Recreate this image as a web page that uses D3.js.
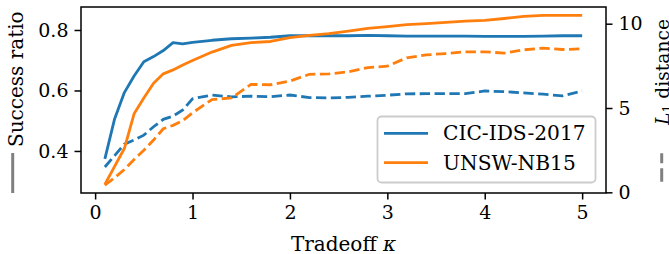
<!DOCTYPE html>
<html>
<head>
<meta charset="utf-8">
<script src="https://cdn.jsdelivr.net/npm/d3@7"></script>
<style>
  body { margin: 0; background: #fff; }
  svg { display: block; font-family: "DejaVu Serif", serif; }
</style>
</head>
<body>
<svg></svg>
<script>
var width = 669;
var height = 254;
var plotLeft = 81, plotRight = 606, plotTop = 7, plotBottom = 193; // plot frame

// data
var kappa = [0.1, 0.2, 0.3, 0.4, 0.5, 0.6, 0.7, 0.8, 0.9, 1.0,
             1.2, 1.4, 1.6, 1.8, 2.0, 2.2, 2.4, 2.6, 2.8, 3.0,
             3.2, 3.4, 3.6, 3.8, 4.0, 4.2, 4.4, 4.6, 4.8, 5.0];
var cicSuccess = [0.374, 0.506, 0.593, 0.648, 0.695, 0.712, 0.732, 0.758, 0.754, 0.759,
                  0.766, 0.771, 0.773, 0.776, 0.781, 0.781, 0.781, 0.781, 0.782, 0.781,
                  0.780, 0.780, 0.780, 0.780, 0.779, 0.779, 0.779, 0.780, 0.781, 0.781];
var unswSuccess = [0.289, 0.349, 0.408, 0.523, 0.575, 0.624, 0.655, 0.668, 0.684, 0.699,
                   0.727, 0.749, 0.758, 0.762, 0.775, 0.782, 0.788, 0.796, 0.805, 0.811,
                   0.818, 0.821, 0.825, 0.829, 0.832, 0.838, 0.845, 0.848, 0.848, 0.848];
var cicL1 = [1.50, 2.18, 2.86, 3.10, 3.39, 3.89, 4.33, 4.52, 4.88, 5.55,
             5.77, 5.66, 5.70, 5.67, 5.77, 5.62, 5.60, 5.63, 5.70, 5.76,
             5.84, 5.85, 5.85, 5.85, 6.01, 5.97, 5.90, 5.82, 5.72, 6.01];
var unswL1 = [0.42, 0.87, 1.35, 1.95, 2.50, 3.10, 3.77, 3.97, 4.25, 4.72,
              5.50, 5.60, 6.40, 6.38, 6.60, 7.00, 7.02, 7.15, 7.40, 7.48,
              7.98, 8.15, 8.23, 8.33, 8.33, 8.26, 8.45, 8.55, 8.47, 8.51];
var xTicks = [0, 1, 2, 3, 4, 5];
var leftTicks = [0.4, 0.6, 0.8];
var rightTicks = [0, 5, 10];
var seriesNames = ["CIC-IDS-2017", "UNSW-NB15"];
var colors = ["#1f77b4", "#ff7f0e"];

var fs = 19;      // tick labels
var labelFs = 20; // axis labels
var lw = 2.8;

var svg = d3.select("svg").attr("width", width).attr("height", height);

// scales (matplotlib style 5% margins)
var xScale = d3.scaleLinear().domain([-0.145, 5.245]).range([plotLeft, plotRight]);
var lScale = d3.scaleLinear().domain([0.261, 0.876]).range([plotBottom, plotTop]);
var rScale = d3.scaleLinear().domain([-0.04, 10.99]).range([plotBottom, plotTop]);

// lines
var lineL = d3.line().x(function(d) { return xScale(d[0]); }).y(function(d) { return lScale(d[1]); });
var lineR = d3.line().x(function(d) { return xScale(d[0]); }).y(function(d) { return rScale(d[1]); });

var plot = svg.append("g");
[[cicL1, 0], [unswL1, 1]].forEach(function(s) {
    plot.append("path")
        .attr("d", lineR(kappa.map(function(k, i) { return [k, s[0][i]]; })))
        .attr("fill", "none")
        .attr("stroke", colors[s[1]])
        .attr("stroke-width", lw)
        .attr("stroke-dasharray", (3.7 * lw) + "," + (1.6 * lw));
});
[[cicSuccess, 0], [unswSuccess, 1]].forEach(function(s) {
    plot.append("path")
        .attr("d", lineL(kappa.map(function(k, i) { return [k, s[0][i]]; })))
        .attr("fill", "none")
        .attr("stroke", colors[s[1]])
        .attr("stroke-width", lw)
        .attr("stroke-linejoin", "round");
});

// axes
function styleAxis(g) {
    g.select(".domain").remove();
    g.selectAll(".tick line").attr("stroke", "#000").attr("stroke-width", 1.5);
    g.selectAll(".tick text").attr("font-family", "DejaVu Serif").attr("font-size", fs).attr("fill", "#000");
}
svg.append("g")
    .attr("transform", "translate(0," + plotBottom + ")")
    .call(d3.axisBottom(xScale).tickValues(xTicks).tickFormat(d3.format("d")).tickSize(6.5).tickPadding(6))
    .call(styleAxis);
svg.append("g")
    .attr("transform", "translate(" + plotLeft + ",0)")
    .call(d3.axisLeft(lScale).tickValues(leftTicks).tickFormat(d3.format(".1f")).tickSize(6.5).tickPadding(6))
    .call(styleAxis);
svg.append("g")
    .attr("transform", "translate(" + plotRight + ",0)")
    .call(d3.axisRight(rScale).tickValues(rightTicks).tickFormat(d3.format("d")).tickSize(6.5).tickPadding(6))
    .call(styleAxis);

// frame
svg.append("rect")
    .attr("x", plotLeft).attr("y", plotTop)
    .attr("width", plotRight - plotLeft).attr("height", plotBottom - plotTop)
    .attr("fill", "none").attr("stroke", "#000").attr("stroke-width", 1.5);

// axis labels
svg.append("text")
    .attr("x", (plotLeft + plotRight) / 2).attr("y", 251)
    .attr("text-anchor", "middle").attr("font-size", labelFs)
    .html('Tradeoff <tspan font-style="italic">κ</tspan>');

svg.append("text")
    .attr("transform", "translate(22.7,147) rotate(-90)")
    .attr("font-size", labelFs)
    .text("Success ratio");
svg.append("line")
    .attr("x1", 12.7).attr("x2", 12.7).attr("y1", 153).attr("y2", 193)
    .attr("stroke", "#808080").attr("stroke-width", 3);

svg.append("text")
    .attr("transform", "translate(668.5,125) rotate(-90)")
    .attr("font-size", 18.7)
    .html('<tspan font-style="italic">L</tspan><tspan font-size="12.5" dy="3">1</tspan><tspan dy="-3"> distance</tspan>');
svg.append("line")
    .attr("x1", 661.7).attr("x2", 661.7).attr("y1", 153.3).attr("y2", 181.7)
    .attr("stroke", "#808080").attr("stroke-width", 3)
    .attr("stroke-dasharray", "10,5,13.5,5");

// legend
var legend = svg.append("g");
legend.append("rect")
    .attr("x", 377.5).attr("y", 116.5).attr("width", 218).attr("height", 66)
    .attr("rx", 4)
    .attr("fill", "#fff").attr("fill-opacity", 0.8)
    .attr("stroke", "#cccccc").attr("stroke-width", 1.8);
seriesNames.forEach(function(name, i) {
    var y = 133.3 + i * 29.4;
    legend.append("line")
        .attr("x1", 384).attr("x2", 428).attr("y1", y).attr("y2", y)
        .attr("stroke", colors[i]).attr("stroke-width", lw);
    legend.append("text")
        .attr("x", 443).attr("y", y + 6.8)
        .attr("font-size", 20.2)
        .text(name);
});
</script>
</body>
</html>
